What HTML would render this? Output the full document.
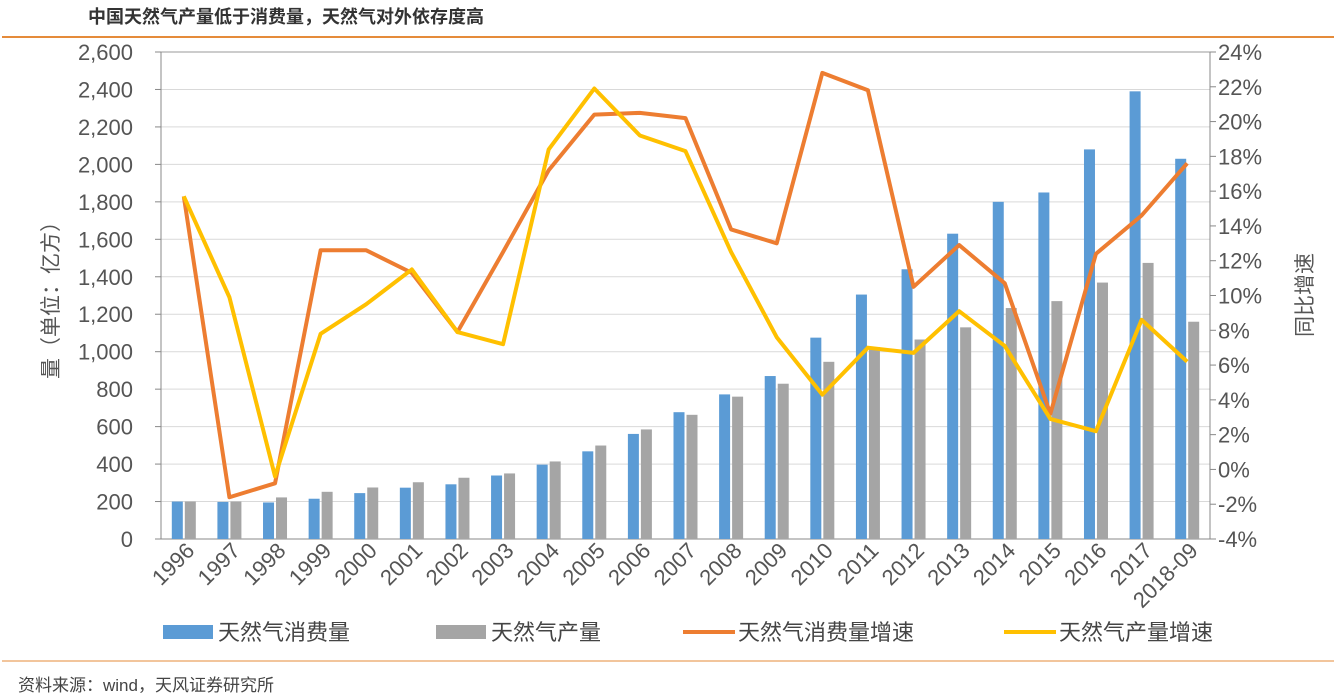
<!DOCTYPE html>
<html><head><meta charset="utf-8"><style>
body{margin:0;background:#fff;font-family:"Liberation Sans","Noto Sans CJK SC",sans-serif;}
#wrap{position:relative;width:1334px;height:698px;overflow:hidden}
</style></head><body>
<div id="wrap">
<svg id="chart" width="1334" height="698"></svg>
</div>
<script>
const categories=["1996","1997","1998","1999","2000","2001","2002","2003","2004","2005","2006","2007","2008","2009","2010","2011","2012","2013","2014","2015","2016","2017","2018-09"];
const consumption=[200,198,195,215,245,274,292,339,397,468,561,677,772,870,1075,1305,1440,1630,1800,1850,2080,2390,2030];
const production=[200,200,222,252,275,303,327,350,414,499,585,663,760,829,946,1025,1065,1130,1233,1270,1369,1474,1160];
const consGrowth=[15.7,-1.6,-0.8,12.6,12.6,11.3,7.9,12.5,17.2,20.4,20.5,20.2,13.8,13.0,22.8,21.8,10.5,12.9,10.7,3.2,12.4,14.6,17.6];
const prodGrowth=[15.7,9.9,-0.4,7.8,9.5,11.5,7.9,7.2,18.4,21.9,19.2,18.3,12.5,7.6,4.3,7.0,6.7,9.1,7.1,2.9,2.2,8.6,6.2];
const leftTicks=[0,200,400,600,800,1000,1200,1400,1600,1800,2000,2200,2400,2600];
const rightTicks=[-4,-2,0,2,4,6,8,10,12,14,16,18,20,22,24];

const NS="http://www.w3.org/2000/svg";
const svg=document.getElementById('chart');
function el(t,a,txt){const e=document.createElementNS(NS,t);for(const k in a)e.setAttribute(k,a[k]);if(txt!==undefined)e.textContent=txt;svg.appendChild(e);return e;}
const X0=161,X1=1210,Y0=539,Y1=52;
const yL=v=>Y0-(v/2600)*(Y0-Y1);
const yR=v=>Y0-((v+4)/28)*(Y0-Y1);
const cw=(X1-X0)/categories.length;
const xc=i=>X0+cw*(i+0.5);

let e;
e=el('text',{x:88,y:23,'font-size':18,'font-weight':'bold',fill:'#333'},'中国天然气产量低于消费量，天然气对外依存度高');

e=el('line',{x1:2,x2:1334,y1:37,y2:37,stroke:'#e58b3a','stroke-width':2});


leftTicks.forEach(v=>{
  const g=el('line',{x1:X0,x2:X1,y1:yL(v),y2:yL(v),stroke:v===2600?'#999':'#d9d9d9','stroke-width':1});
  
  el('line',{x1:155,x2:X0,y1:yL(v),y2:yL(v),stroke:'#888'});
  const t=el('text',{x:133,y:yL(v)+8,'font-size':22,'text-anchor':'end',fill:'#555'},v.toLocaleString('en-US'));
  
});
rightTicks.forEach(v=>{
  el('line',{x1:X1,x2:X1+6,y1:yR(v),y2:yR(v),stroke:'#888'});
  const t=el('text',{x:1218,y:yR(v)+8,'font-size':22,fill:'#555'},v+'%');
  
});
el('line',{x1:X0,x2:X0,y1:Y1,y2:Y0,stroke:'#888'});
el('line',{x1:X1,x2:X1,y1:Y1,y2:Y0,stroke:'#888'});
el('line',{x1:X0,x2:X1,y1:Y0,y2:Y0,stroke:'#888'});

const bw=11;
categories.forEach((c,i)=>{
  const b1=el('rect',{x:xc(i)-bw-1,y:yL(consumption[i]),width:bw,height:Y0-yL(consumption[i]),fill:'#5b9bd5'});
  
  const b2=el('rect',{x:xc(i)+1,y:yL(production[i]),width:bw,height:Y0-yL(production[i]),fill:'#a5a5a5'});
  
  const lx=xc(i)+12,ly=552;
  const t=el('text',{x:lx,y:ly,'font-size':22,'text-anchor':'end',fill:'#555',transform:`rotate(-45 ${lx} ${ly})`},c);
  
});
function line(arr,col,name){
  const p=el('polyline',{points:arr.map((v,i)=>xc(i)+','+yR(v)).join(' '),fill:'none',stroke:col,'stroke-width':4,'stroke-linejoin':'round'});
  
}
line(consGrowth,'#ed7d31','line-consumption-growth');
line(prodGrowth,'#ffc000','line-production-growth');

e=el('text',{x:58,y:295,'font-size':21,fill:'#555','text-anchor':'middle',transform:'rotate(-90 58 295)'},'量（单位：亿方）');

e=el('text',{x:1312,y:295,'font-size':21,fill:'#555','text-anchor':'middle',transform:'rotate(-90 1312 295)'},'同比增速');


const leg=[['rect','#5b9bd5','天然气消费量',163],['rect','#a5a5a5','天然气产量',436],['line','#ed7d31','天然气消费量增速',683],['line','#ffc000','天然气产量增速',1004]];
leg.forEach(l=>{
  let m;
  if(l[0]==='rect')m=el('rect',{x:l[3],y:625,width:50,height:14,fill:l[1]});
  else m=el('line',{x1:l[3],x2:l[3]+52,y1:632,y2:632,stroke:l[1],'stroke-width':4});
  
  const t=el('text',{x:l[3]+55,y:640,'font-size':22,fill:'#444'},l[2]);
  
});
e=el('line',{x1:2,x2:1334,y1:661,y2:661,stroke:'#e58b3a','stroke-width':1});

e=el('text',{x:18,y:691,'font-size':17,fill:'#444'},'资料来源：wind，天风证券研究所');

</script>
</body></html>
